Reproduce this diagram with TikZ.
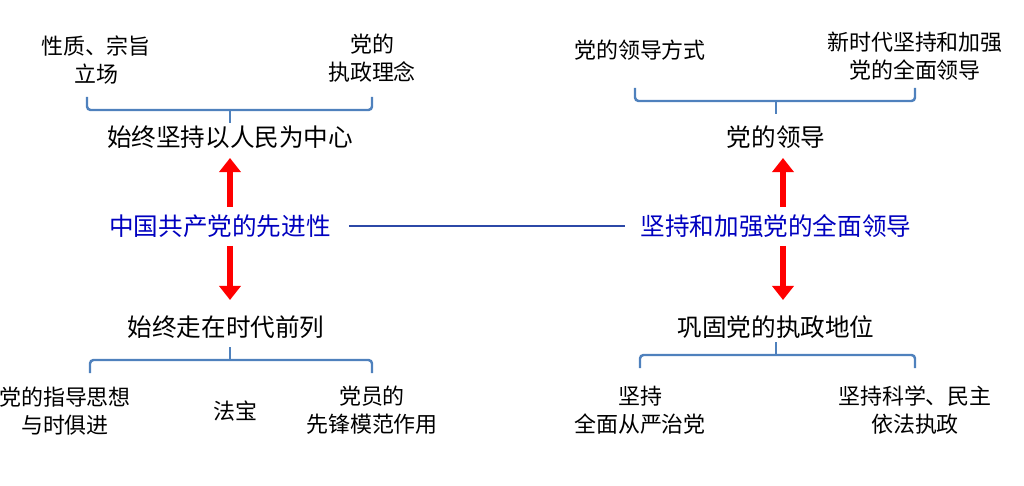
\documentclass[tikz,border=0pt]{standalone}
\usepackage{fontspec}
\setmainfont{Noto Sans CJK SC}
\usetikzlibrary{arrows.meta,positioning,calc}
\definecolor{steel}{RGB}{79,129,189}
\tikzset{
  >=Stealth,
  big/.style={font=\fontsize{14}{16}\selectfont},
  hub/.style={big, text=blue!75!black},
  lbl/.style={font=\fontsize{12.5}{16}\selectfont, align=center},
  brace/.style={draw=steel, line width=1.4pt, rounded corners=2pt},
  up/.style={-{Triangle[length=8pt,width=12pt]}, red, line width=3.5pt}
}
\begin{document}
\begin{tikzpicture}[x=0.02cm,y=-0.02cm]
    \useasboundingbox (0,0) rectangle (1024,486);
    % centre line
    \node[hub] (adv) at (220,226) {中国共产党的先进性};
    \node[hub] (lead) at (776,226) {坚持和加强党的全面领导};
    \draw[steel!70!blue!80!black, line width=1.2pt] ($(adv.east)+(12,0)$) -- ($(lead.west)+(-10,0)$);
    % left side
    \node[big] (people) at (230,137) {始终坚持以人民为中心};
    \node[big] (front) at (226,327) {始终走在时代前列};
    \draw[up] (230,207) -- (230,158);
    \draw[up] (230,246) -- (230,300);
    \node[lbl] (nat) at (96,60) {性质、宗旨\\立场};
    \node[lbl] (idea) at (372,58) {党的\\执政理念};
    \draw[brace] (87,97) -- (87,110) -- (372,110) -- (372,97);
    \draw[brace] (230,110) -- (230,123);
    \draw[brace] (90,373) -- (90,360) -- (372,360) -- (372,373);
    \draw[brace] (230,360) -- (230,347);
    \node[lbl] (guide) at (65,411) {党的指导思想\\与时俱进};
    \node[lbl] (magic) at (235,411) {法宝};
    \node[lbl] (member) at (372,410) {党员的\\先锋模范作用};
    % right side
    \node[big] (ld) at (776,137) {党的领导};
    \node[big] (rule) at (776,327) {巩固党的执政地位};
    \draw[up] (783,207) -- (783,158);
    \draw[up] (783,246) -- (783,300);
    \node[lbl] (way) at (640,50) {党的领导方式};
    \node[lbl] (era) at (915,56) {新时代坚持和加强\\党的全面领导};
    \draw[brace] (635,88) -- (635,101) -- (915,101) -- (915,88);
    \draw[brace] (776,101) -- (776,114);
    \draw[brace] (640,368) -- (640,355) -- (915,355) -- (915,368);
    \draw[brace] (776,355) -- (776,342);
    \node[lbl] (strict) at (640,410) {坚持\\全面从严治党};
    \node[lbl] (sci) at (915,410) {坚持科学、民主\\依法执政};
\end{tikzpicture}
\end{document}
